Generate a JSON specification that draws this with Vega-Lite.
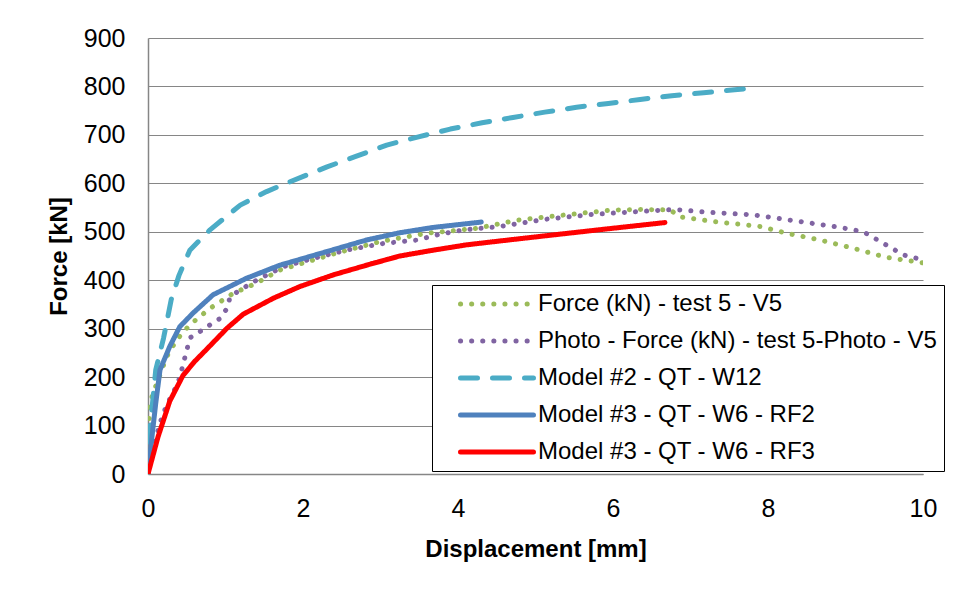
{
  "$schema": "https://vega.github.io/schema/vega-lite/v6.json",
  "width": 775,
  "height": 436,
  "autosize": {"type": "none"},
  "padding": {"left": 148, "top": 38, "right": 32, "bottom": 117},
  "background": "white",
  "config": {
    "view": {"stroke": null},
    "font": "Liberation Sans",
    "axis": {"labelFont": "Liberation Sans", "titleFont": "Liberation Sans", "labelColor": "black", "titleColor": "black"},
    "legend": {"labelFont": "Liberation Sans", "labelColor": "black"}
  },
  "data": {
    "values": [
      {"s": "Force (kN) - test 5 - V5", "d": 0, "f": 0},
      {"s": "Force (kN) - test 5 - V5", "d": 0.01, "f": 100},
      {"s": "Force (kN) - test 5 - V5", "d": 0.03, "f": 150},
      {"s": "Force (kN) - test 5 - V5", "d": 0.09, "f": 177},
      {"s": "Force (kN) - test 5 - V5", "d": 0.13, "f": 194},
      {"s": "Force (kN) - test 5 - V5", "d": 0.24, "f": 242},
      {"s": "Force (kN) - test 5 - V5", "d": 0.37, "f": 277},
      {"s": "Force (kN) - test 5 - V5", "d": 0.54, "f": 308},
      {"s": "Force (kN) - test 5 - V5", "d": 0.8, "f": 342},
      {"s": "Force (kN) - test 5 - V5", "d": 1.1, "f": 373},
      {"s": "Force (kN) - test 5 - V5", "d": 1.4, "f": 394},
      {"s": "Force (kN) - test 5 - V5", "d": 1.7, "f": 421},
      {"s": "Force (kN) - test 5 - V5", "d": 2.43, "f": 456},
      {"s": "Force (kN) - test 5 - V5", "d": 3.0, "f": 480},
      {"s": "Force (kN) - test 5 - V5", "d": 3.6, "f": 497},
      {"s": "Force (kN) - test 5 - V5", "d": 4.24, "f": 507},
      {"s": "Force (kN) - test 5 - V5", "d": 4.76, "f": 524},
      {"s": "Force (kN) - test 5 - V5", "d": 5.45, "f": 536},
      {"s": "Force (kN) - test 5 - V5", "d": 6.0, "f": 545},
      {"s": "Force (kN) - test 5 - V5", "d": 6.4, "f": 546},
      {"s": "Force (kN) - test 5 - V5", "d": 6.74, "f": 545},
      {"s": "Force (kN) - test 5 - V5", "d": 6.86, "f": 531},
      {"s": "Force (kN) - test 5 - V5", "d": 7.3, "f": 521},
      {"s": "Force (kN) - test 5 - V5", "d": 7.9, "f": 511},
      {"s": "Force (kN) - test 5 - V5", "d": 8.24, "f": 497},
      {"s": "Force (kN) - test 5 - V5", "d": 8.67, "f": 483},
      {"s": "Force (kN) - test 5 - V5", "d": 9.1, "f": 466},
      {"s": "Force (kN) - test 5 - V5", "d": 9.53, "f": 447},
      {"s": "Force (kN) - test 5 - V5", "d": 10, "f": 436},

      {"s": "Photo - Force (kN) - test 5-Photo - V5", "d": 0, "f": 0},
      {"s": "Photo - Force (kN) - test 5-Photo - V5", "d": 0.08, "f": 60},
      {"s": "Photo - Force (kN) - test 5-Photo - V5", "d": 0.155, "f": 105},
      {"s": "Photo - Force (kN) - test 5-Photo - V5", "d": 0.2, "f": 126},
      {"s": "Photo - Force (kN) - test 5-Photo - V5", "d": 0.26, "f": 148},
      {"s": "Photo - Force (kN) - test 5-Photo - V5", "d": 0.33, "f": 170},
      {"s": "Photo - Force (kN) - test 5-Photo - V5", "d": 0.38, "f": 185},
      {"s": "Photo - Force (kN) - test 5-Photo - V5", "d": 0.42, "f": 205},
      {"s": "Photo - Force (kN) - test 5-Photo - V5", "d": 0.45, "f": 225},
      {"s": "Photo - Force (kN) - test 5-Photo - V5", "d": 0.5, "f": 255},
      {"s": "Photo - Force (kN) - test 5-Photo - V5", "d": 0.54, "f": 281},
      {"s": "Photo - Force (kN) - test 5-Photo - V5", "d": 0.67, "f": 294},
      {"s": "Photo - Force (kN) - test 5-Photo - V5", "d": 0.8, "f": 308},
      {"s": "Photo - Force (kN) - test 5-Photo - V5", "d": 0.93, "f": 321},
      {"s": "Photo - Force (kN) - test 5-Photo - V5", "d": 1.02, "f": 342},
      {"s": "Photo - Force (kN) - test 5-Photo - V5", "d": 1.06, "f": 366},
      {"s": "Photo - Force (kN) - test 5-Photo - V5", "d": 1.19, "f": 380},
      {"s": "Photo - Force (kN) - test 5-Photo - V5", "d": 1.4, "f": 400},
      {"s": "Photo - Force (kN) - test 5-Photo - V5", "d": 1.75, "f": 428},
      {"s": "Photo - Force (kN) - test 5-Photo - V5", "d": 2.13, "f": 445},
      {"s": "Photo - Force (kN) - test 5-Photo - V5", "d": 2.56, "f": 462},
      {"s": "Photo - Force (kN) - test 5-Photo - V5", "d": 3.04, "f": 476},
      {"s": "Photo - Force (kN) - test 5-Photo - V5", "d": 3.47, "f": 483},
      {"s": "Photo - Force (kN) - test 5-Photo - V5", "d": 3.77, "f": 495},
      {"s": "Photo - Force (kN) - test 5-Photo - V5", "d": 4.07, "f": 504},
      {"s": "Photo - Force (kN) - test 5-Photo - V5", "d": 4.54, "f": 511},
      {"s": "Photo - Force (kN) - test 5-Photo - V5", "d": 5.14, "f": 526},
      {"s": "Photo - Force (kN) - test 5-Photo - V5", "d": 5.75, "f": 536},
      {"s": "Photo - Force (kN) - test 5-Photo - V5", "d": 6.35, "f": 542},
      {"s": "Photo - Force (kN) - test 5-Photo - V5", "d": 6.8, "f": 546},
      {"s": "Photo - Force (kN) - test 5-Photo - V5", "d": 7.25, "f": 540},
      {"s": "Photo - Force (kN) - test 5-Photo - V5", "d": 7.81, "f": 535},
      {"s": "Photo - Force (kN) - test 5-Photo - V5", "d": 8.33, "f": 523},
      {"s": "Photo - Force (kN) - test 5-Photo - V5", "d": 8.93, "f": 509},
      {"s": "Photo - Force (kN) - test 5-Photo - V5", "d": 9.23, "f": 500},
      {"s": "Photo - Force (kN) - test 5-Photo - V5", "d": 9.49, "f": 476},
      {"s": "Photo - Force (kN) - test 5-Photo - V5", "d": 9.75, "f": 452},
      {"s": "Photo - Force (kN) - test 5-Photo - V5", "d": 10, "f": 442},

      {"s": "Model #2 - QT - W12", "d": 0, "f": 0},
      {"s": "Model #2 - QT - W12", "d": 0.03, "f": 100},
      {"s": "Model #2 - QT - W12", "d": 0.1, "f": 215},
      {"s": "Model #2 - QT - W12", "d": 0.2, "f": 280},
      {"s": "Model #2 - QT - W12", "d": 0.3, "f": 360},
      {"s": "Model #2 - QT - W12", "d": 0.4, "f": 410},
      {"s": "Model #2 - QT - W12", "d": 0.54, "f": 462},
      {"s": "Model #2 - QT - W12", "d": 0.8, "f": 504},
      {"s": "Model #2 - QT - W12", "d": 1.19, "f": 555},
      {"s": "Model #2 - QT - W12", "d": 1.53, "f": 583},
      {"s": "Model #2 - QT - W12", "d": 1.83, "f": 603},
      {"s": "Model #2 - QT - W12", "d": 2.31, "f": 634},
      {"s": "Model #2 - QT - W12", "d": 2.69, "f": 656},
      {"s": "Model #2 - QT - W12", "d": 3.08, "f": 679},
      {"s": "Model #2 - QT - W12", "d": 3.49, "f": 696},
      {"s": "Model #2 - QT - W12", "d": 3.9, "f": 712},
      {"s": "Model #2 - QT - W12", "d": 4.31, "f": 725},
      {"s": "Model #2 - QT - W12", "d": 4.71, "f": 736},
      {"s": "Model #2 - QT - W12", "d": 5.12, "f": 747},
      {"s": "Model #2 - QT - W12", "d": 5.53, "f": 757},
      {"s": "Model #2 - QT - W12", "d": 5.94, "f": 765},
      {"s": "Model #2 - QT - W12", "d": 6.35, "f": 773},
      {"s": "Model #2 - QT - W12", "d": 6.76, "f": 781},
      {"s": "Model #2 - QT - W12", "d": 7.17, "f": 787},
      {"s": "Model #2 - QT - W12", "d": 7.57, "f": 793},
      {"s": "Model #2 - QT - W12", "d": 7.7, "f": 795},

      {"s": "Model #3 - QT - W6 - RF2", "d": 0, "f": 0},
      {"s": "Model #3 - QT - W6 - RF2", "d": 0.05, "f": 75},
      {"s": "Model #3 - QT - W6 - RF2", "d": 0.1, "f": 146},
      {"s": "Model #3 - QT - W6 - RF2", "d": 0.155, "f": 215},
      {"s": "Model #3 - QT - W6 - RF2", "d": 0.28, "f": 263},
      {"s": "Model #3 - QT - W6 - RF2", "d": 0.41, "f": 304},
      {"s": "Model #3 - QT - W6 - RF2", "d": 0.58, "f": 332},
      {"s": "Model #3 - QT - W6 - RF2", "d": 0.84, "f": 370},
      {"s": "Model #3 - QT - W6 - RF2", "d": 1.27, "f": 404},
      {"s": "Model #3 - QT - W6 - RF2", "d": 1.7, "f": 431},
      {"s": "Model #3 - QT - W6 - RF2", "d": 1.96, "f": 443},
      {"s": "Model #3 - QT - W6 - RF2", "d": 2.39, "f": 463},
      {"s": "Model #3 - QT - W6 - RF2", "d": 2.82, "f": 483},
      {"s": "Model #3 - QT - W6 - RF2", "d": 3.25, "f": 498},
      {"s": "Model #3 - QT - W6 - RF2", "d": 3.68, "f": 509},
      {"s": "Model #3 - QT - W6 - RF2", "d": 4.3, "f": 520},

      {"s": "Model #3 - QT - W6 - RF3", "d": 0, "f": 0},
      {"s": "Model #3 - QT - W6 - RF3", "d": 0.13, "f": 77},
      {"s": "Model #3 - QT - W6 - RF3", "d": 0.28, "f": 150},
      {"s": "Model #3 - QT - W6 - RF3", "d": 0.45, "f": 203},
      {"s": "Model #3 - QT - W6 - RF3", "d": 0.6, "f": 232},
      {"s": "Model #3 - QT - W6 - RF3", "d": 0.76, "f": 258},
      {"s": "Model #3 - QT - W6 - RF3", "d": 1.02, "f": 301},
      {"s": "Model #3 - QT - W6 - RF3", "d": 1.23, "f": 330},
      {"s": "Model #3 - QT - W6 - RF3", "d": 1.62, "f": 363},
      {"s": "Model #3 - QT - W6 - RF3", "d": 1.96, "f": 387},
      {"s": "Model #3 - QT - W6 - RF3", "d": 2.39, "f": 411},
      {"s": "Model #3 - QT - W6 - RF3", "d": 2.82, "f": 431},
      {"s": "Model #3 - QT - W6 - RF3", "d": 3.25, "f": 450},
      {"s": "Model #3 - QT - W6 - RF3", "d": 3.68, "f": 462},
      {"s": "Model #3 - QT - W6 - RF3", "d": 4.11, "f": 473},
      {"s": "Model #3 - QT - W6 - RF3", "d": 4.54, "f": 481},
      {"s": "Model #3 - QT - W6 - RF3", "d": 5.2, "f": 493},
      {"s": "Model #3 - QT - W6 - RF3", "d": 5.87, "f": 505},
      {"s": "Model #3 - QT - W6 - RF3", "d": 6.67, "f": 519}
    ]
  },
  "mark": {"type": "line", "strokeCap": "round", "strokeJoin": "round", "clip": true},
  "encoding": {
    "x": {
      "field": "d", "type": "quantitative",
      "scale": {"domain": [0, 10], "nice": false, "zero": false},
      "axis": {
        "title": "Displacement [mm]", "values": [0, 2, 4, 6, 8, 10],
        "grid": false, "ticks": false, "domainColor": "#868686", "domainWidth": 1.5,
        "labelFontSize": 25, "labelPadding": 22, "labelFlush": false,
        "titleFontSize": 24, "titleFontWeight": "bold", "titlePadding": 16
      }
    },
    "y": {
      "field": "f", "type": "quantitative",
      "scale": {"domain": [0, 900], "nice": false},
      "axis": {
        "title": "Force [kN]", "values": [0, 100, 200, 300, 400, 500, 600, 700, 800, 900],
        "grid": true, "gridColor": "#868686", "gridWidth": 1.2, "ticks": false,
        "domainColor": "#868686", "domainWidth": 1.5,
        "labelFontSize": 25, "labelPadding": 23, "labelFlush": false,
        "titleFontSize": 24, "titleFontWeight": "bold", "titlePadding": 12
      }
    },
    "color": {
      "field": "s", "type": "nominal",
      "scale": {
        "domain": ["Force (kN) - test 5 - V5", "Photo - Force (kN) - test 5-Photo - V5", "Model #2 - QT - W12", "Model #3 - QT - W6 - RF2", "Model #3 - QT - W6 - RF3"],
        "range": ["#9BBB59", "#8064A2", "#4BACC6", "#4F81BD", "#FF0000"]
      },
      "legend": {
        "title": null, "orient": "none", "legendX": 284, "legendY": 247,
        "strokeColor": "black", "fillColor": "white", "padding": 7,
        "symbolType": "M-4,0H4", "symbolSize": 333,
        "symbolOffset": 46, "labelOffset": 29, "labelFontSize": 24, "rowPadding": 13,
        "labelLimit": 600,
        "encode": {"symbols": {"update": {"strokeCap": {"value": "round"}}}}
      }
    },
    "strokeDash": {
      "field": "s", "type": "nominal",
      "scale": {
        "domain": ["Force (kN) - test 5 - V5", "Photo - Force (kN) - test 5-Photo - V5", "Model #2 - QT - W12", "Model #3 - QT - W6 - RF2", "Model #3 - QT - W6 - RF3"],
        "range": [[0.1, 11], [0.1, 11], [17, 15], [1, 0], [1, 0]]
      },
      "legend": null
    },
    "strokeWidth": {
      "field": "s", "type": "ordinal",
      "scale": {
        "domain": ["Force (kN) - test 5 - V5", "Photo - Force (kN) - test 5-Photo - V5", "Model #2 - QT - W12", "Model #3 - QT - W6 - RF2", "Model #3 - QT - W6 - RF3"],
        "range": [5, 5, 7, 5, 5]
      },
      "legend": null
    }
  }
}
